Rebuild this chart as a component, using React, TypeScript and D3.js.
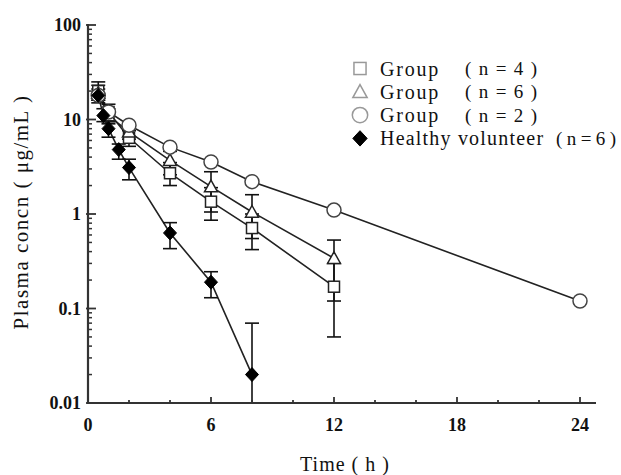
import React from 'react';
import * as d3 from 'd3';

// time points (h) and mean concentrations (µg/mL)
const timesSquare = [0.5, 1, 2, 4, 6, 8, 12];
const meanSquare = [20, 12, 6.4, 2.7, 1.35, 0.71, 0.17];
const loSquare = [16, 9, 5.2, 2.0, 0.86, 0.42, 0.05];
const hiSquare = [25, 14.5, 7.6, 3.5, 1.9, 1.0, 0.3];

const timesTriangle = [0.5, 1, 2, 4, 6, 8, 12];
const meanTriangle = [19, 11, 7.4, 3.7, 1.95, 1.05, 0.34];
const loTriangle = [16, 9.5, 6.2, 2.6, 1.05, 0.55, 0.12];
const hiTriangle = [23, 13, 8.5, 4.6, 2.8, 1.6, 0.53];

const timesCircle = [0.5, 1, 2, 4, 6, 8, 12, 24];
const meanCircle = [18, 12, 8.7, 5.1, 3.55, 2.2, 1.1, 0.12];

const timesDiamond = [0.5, 0.75, 1, 1.5, 2, 4, 6, 8];
const meanDiamond = [18, 11, 8, 4.8, 3.1, 0.63, 0.19, 0.02];
const loDiamond = [15, 9.5, 6.5, 3.8, 2.3, 0.43, 0.13, 0.0101];
const hiDiamond = [21, 13, 9.5, 5.5, 3.8, 0.81, 0.245, 0.07];

const yTicks = [100, 10, 1, 0.1, 0.01];
const yTickLabels = ['100', '10', '1', '0.1', '0.01'];
const xTicks = [0, 6, 12, 18, 24];

const legendItems = [
  { label: 'Group', n: '( n = 4 )', shape: 'square' },
  { label: 'Group', n: '( n = 6 )', shape: 'triangle' },
  { label: 'Group', n: '( n = 2 )', shape: 'circle' },
  { label: 'Healthy volunteer', n: '( n = 6 )', shape: 'diamond' },
];

const FONT = '"Liberation Serif", "Times New Roman", serif';

const x = d3.scaleLinear().domain([0, 24]).range([88, 580]);
const y = d3.scaleLog().domain([0.01, 100]).range([403, 25]);

const line = d3
  .line<[number, number]>()
  .x((d) => x(d[0]))
  .y((d) => y(d[1]));

const zip = (t: number[], v: number[]) => t.map((ti, i) => [ti, v[i]] as [number, number]);

function Marker({ shape, cx, cy, stroke, fill, s = 1 }: any) {
  if (shape === 'square') {
    const h = 5.5 * s;
    return <rect x={cx - h} y={cy - h} width={2 * h} height={2 * h} fill={fill} stroke={stroke} strokeWidth={1.5} />;
  }
  if (shape === 'triangle') {
    const h = 6.5 * s;
    return (
      <path
        d={`M${cx},${cy - h} L${cx + h},${cy + h * 0.8} L${cx - h},${cy + h * 0.8} Z`}
        fill={fill}
        stroke={stroke}
        strokeWidth={1.5}
      />
    );
  }
  if (shape === 'circle') {
    return <circle cx={cx} cy={cy} r={7 * s} fill={fill} stroke={stroke} strokeWidth={1.5} />;
  }
  const h = 7 * s;
  return (
    <path
      d={`M${cx},${cy - h} L${cx + h * 0.93},${cy} L${cx},${cy + h} L${cx - h * 0.93},${cy} Z`}
      fill={stroke}
      stroke={stroke}
      strokeWidth={1}
    />
  );
}

function ErrorBars({ times, lo, hi }: { times: number[]; lo: number[]; hi: number[] }) {
  return (
    <g stroke="#111" strokeWidth={1.6}>
      {times.map((t, i) => {
        const cx = x(t);
        const y1 = y(Math.max(lo[i], 0.01));
        const y2 = y(hi[i]);
        return (
          <g key={i}>
            <line x1={cx} x2={cx} y1={y1} y2={y2} />
            <line x1={cx - 7} x2={cx + 7} y1={y2} y2={y2} />
            {lo[i] > 0.0105 && <line x1={cx - 7} x2={cx + 7} y1={y1} y2={y1} />}
          </g>
        );
      })}
    </g>
  );
}

export default function App() {
  const minorY: number[] = [];
  for (let e = -2; e < 2; e++) {
    for (let m = 2; m <= 9; m++) minorY.push(m * Math.pow(10, e));
  }
  const minorX = d3.range(0, 25, 2).filter((v) => v % 6 !== 0);

  const series = [
    { times: timesSquare, mean: meanSquare, shape: 'square', stroke: '#222' },
    { times: timesTriangle, mean: meanTriangle, shape: 'triangle', stroke: '#222' },
    { times: timesCircle, mean: meanCircle, shape: 'circle', stroke: '#444' },
    { times: timesDiamond, mean: meanDiamond, shape: 'diamond', stroke: '#000' },
  ];

  return (
    <svg width={621} height={475} style={{ position: 'absolute', left: 0, top: 0, background: '#fff' }} fontFamily={FONT}>
      <rect width={621} height={475} fill="#fff" />

      {/* lines */}
      {series.map((s, i) => (
        <path key={i} d={line(zip(s.times, s.mean)) || ''} fill="none" stroke="#222" strokeWidth={1.6} />
      ))}

      {/* error bars */}
      <ErrorBars times={timesSquare} lo={loSquare} hi={hiSquare} />
      <ErrorBars times={timesTriangle} lo={loTriangle} hi={hiTriangle} />
      <ErrorBars times={timesDiamond} lo={loDiamond} hi={hiDiamond} />

      {/* markers */}
      {series.map((s, i) => (
        <g key={i}>
          {s.times.map((t, j) => (
            <Marker key={j} shape={s.shape} cx={x(t)} cy={y(s.mean[j])} stroke={s.stroke} fill="#fff" />
          ))}
        </g>
      ))}

      {/* y axis */}
      <g stroke="#333">
        <line x1={88} x2={88} y1={24} y2={404} strokeWidth={2.2} />
        {yTicks.map((v) => (
          <line key={v} x1={86} x2={96} y1={y(v)} y2={y(v)} strokeWidth={1.8} />
        ))}
        {minorY.map((v, i) => (
          <line key={i} x1={88} x2={92} y1={y(v)} y2={y(v)} strokeWidth={1.5} />
        ))}
      </g>
      {yTicks.map((v, i) => (
        <text key={v} x={81} y={y(v)} dy="0.35em" textAnchor="end" fontSize={18} fontWeight="bold" fill="#111">
          {yTickLabels[i]}
        </text>
      ))}

      {/* x axis */}
      <g stroke="#333">
        <line x1={87} x2={596} y1={403} y2={403} strokeWidth={2.2} />
        {xTicks.map((v) => (
          <line key={v} x1={x(v)} x2={x(v)} y1={403} y2={397} strokeWidth={1.8} />
        ))}
        {minorX.map((v) => (
          <line key={v} x1={x(v)} x2={x(v)} y1={403} y2={400} strokeWidth={1.8} />
        ))}
      </g>
      {xTicks.map((v) => (
        <text key={v} x={x(v)} y={431} textAnchor="middle" fontSize={18} fontWeight="bold" fill="#111">
          {v}
        </text>
      ))}

      {/* axis titles */}
      <text x={345} y={471} textAnchor="middle" fontSize={20} letterSpacing={1} fill="#111">
        Time ( h )
      </text>
      <text
        transform="translate(28,212) rotate(-90)"
        textAnchor="middle"
        fontSize={21}
        letterSpacing={1.5}
        fill="#111"
      >
        Plasma concn ( μg/mL )
      </text>

      {/* legend */}
      {legendItems.map((d, i) => {
        const cy = 68.5 + i * 23.3;
        const last = i === legendItems.length - 1;
        return (
          <g key={i}>
            <Marker
              shape={d.shape}
              cx={360}
              cy={cy}
              s={1.1}
              stroke={d.shape === 'diamond' ? '#000' : '#999'}
              fill="#fff"
            />
            <text x={380} y={cy} dy="0.35em" fontSize={20} letterSpacing={last ? 1.2 : 1.8} fill="#111">
              {d.label}
            </text>
            <text
              x={last ? 556 : 465}
              y={cy}
              dy="0.35em"
              fontSize={19}
              textLength={last ? 60 : 72}
              lengthAdjust="spacing"
              fill="#111"
            >
              {d.n}
            </text>
          </g>
        );
      })}
    </svg>
  );
}
